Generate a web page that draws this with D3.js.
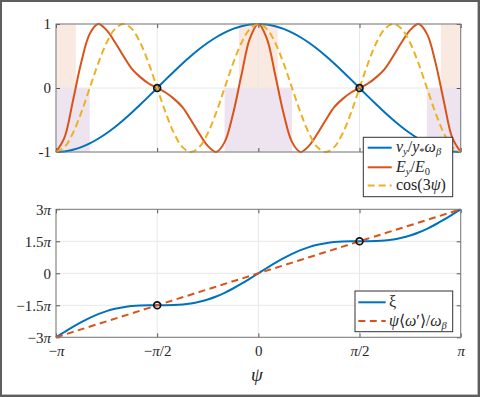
<!DOCTYPE html>
<html>
<head>
<meta charset="utf-8">
<script src="https://cdn.jsdelivr.net/npm/d3@7"></script>
<style>
body { margin: 0; background: #fff; }
svg { display: block; }
svg text { font-family: "Liberation Serif", "Times New Roman", serif; }
.axis path { display: none; }
.axis line { stroke: #555; }
.axis text { fill: #262626; font-size: 15px; }
</style>
</head>
<body>
<script>
// sample points of psi, in units of pi
const psi = [-1, -0.9583, -0.9167, -0.875, -0.8333, -0.7917, -0.75, -0.7083, -0.6667, -0.625, -0.5833, -0.5417,
	-0.5, -0.4583, -0.4167, -0.375, -0.3333, -0.2917, -0.25, -0.2083, -0.1667, -0.125, -0.0833, -0.0417,
	0, 0.0417, 0.0833, 0.125, 0.1667, 0.2083, 0.25, 0.2917, 0.3333, 0.375, 0.4167, 0.4583,
	0.5, 0.5417, 0.5833, 0.625, 0.6667, 0.7083, 0.75, 0.7917, 0.8333, 0.875, 0.9167, 0.9583, 1];

// top panel series
const vyNorm = [-1, -0.991, -0.966, -0.924, -0.866, -0.793, -0.707, -0.609, -0.5, -0.383, -0.259, -0.131,
	0, 0.131, 0.259, 0.383, 0.5, 0.609, 0.707, 0.793, 0.866, 0.924, 0.966, 0.991,
	1, 0.991, 0.966, 0.924, 0.866, 0.793, 0.707, 0.609, 0.5, 0.383, 0.259, 0.131,
	0, -0.131, -0.259, -0.383, -0.5, -0.609, -0.707, -0.793, -0.866, -0.924, -0.966, -0.991, -1];
const eyNorm = [-1, -0.777, -0.206, 0.403, 0.846, 0.999, 0.905, 0.715, 0.5, 0.3, 0.17, 0.07,
	0, -0.07, -0.17, -0.3, -0.5, -0.715, -0.905, -0.999, -0.846, -0.403, 0.206, 0.777,
	1, 0.777, 0.206, -0.403, -0.846, -0.999, -0.905, -0.715, -0.5, -0.3, -0.17, -0.07,
	0, 0.07, 0.17, 0.3, 0.5, 0.715, 0.905, 0.999, 0.846, 0.403, -0.206, -0.777, -1];
const cos3psi = [-1, -0.924, -0.707, -0.383, 0, 0.383, 0.707, 0.924, 1, 0.924, 0.707, 0.383,
	0, -0.383, -0.707, -0.924, -1, -0.924, -0.707, -0.383, 0, 0.383, 0.707, 0.924,
	1, 0.924, 0.707, 0.383, 0, -0.383, -0.707, -0.924, -1, -0.924, -0.707, -0.383,
	0, 0.383, 0.707, 0.924, 1, 0.924, 0.707, 0.383, 0, -0.383, -0.707, -0.924, -1];

// bottom panel series, in units of pi
const xiOverPi = [-3, -2.7514, -2.5113, -2.2874, -2.0865, -1.9138, -1.7725, -1.6638, -1.5865, -1.5374, -1.5113, -1.5014,
	-1.5, -1.4986, -1.4887, -1.4626, -1.4135, -1.3362, -1.2275, -1.0862, -0.9135, -0.7126, -0.4887, -0.2486,
	0, 0.2486, 0.4887, 0.7126, 0.9135, 1.0862, 1.2275, 1.3362, 1.4135, 1.4626, 1.4887, 1.4986,
	1.5, 1.5014, 1.5113, 1.5374, 1.5865, 1.6638, 1.7725, 1.9138, 2.0865, 2.2874, 2.5113, 2.7514, 3];
const meanPsi = [-1, -0.5, 0, 0.5, 1];
const meanPhase = [-3, -1.5, 0, 1.5, 3];

// circle markers
const markPsi = [-0.5, 0.5];
const markTop = [0, 0];
const markBottom = [-1.5, 1.5];

// shaded psi ranges (units of pi)
const peachSpans = [[-1, -0.902], [-0.096, 0.096], [0.902, 1]];
const purpleSpans = [[-1, -0.833], [-0.167, 0.167], [0.833, 1]];

const xTicks = [-1, -0.5, 0, 0.5, 1];
const xTickLabels = ["−π", "−π/2", "0", "π/2", "π"];
const topTicks = [-1, 0, 1];
const topTickLabels = ["-1", "0", "1"];
const bottomTicks = [-3, -1.5, 0, 1.5, 3];
const bottomTickLabels = ["−3π", "−1.5π", "0", "1.5π", "3π"];

const BLUE = "#0072BD", RED = "#D95319", YELLOW = "#EDB120";
const SERIF = "'Liberation Serif', 'Times New Roman', serif";

const W = 480, H = 397;
const svg = d3.select("body").append("svg").attr("width", W).attr("height", H);

// frame
svg.append("rect").attr("width", W).attr("height", H).attr("fill", "#5e5e5e");
svg.append("rect").attr("x", 2).attr("y", 2).attr("width", 475.6).attr("height", 392.6).attr("fill", "#fff");

const x = d3.scaleLinear().domain([-1, 1]).range([56, 460.7]);
const yTop = d3.scaleLinear().domain([-1, 1]).range([152, 24]);
const yBot = d3.scaleLinear().domain([-3, 3]).range([337.3, 209.3]);

function mathText(sel, str) {
	sel.text(null).attr("font-family", SERIF);
	for (const ch of str) {
		const t = sel.append("tspan").text(ch);
		if (ch === "π" || ch === "ψ" || ch === "ω") t.attr("font-style", "italic");
	}
}

function panel(y, ticks, labels, xLabels) {
	const g = svg.append("g");
	const [y0, y1] = y.range();
	// grid
	g.selectAll(".gx").data(xTicks).join("line")
		.attr("x1", d => x(d)).attr("x2", d => x(d))
		.attr("y1", y0).attr("y2", y1)
		.attr("stroke", "#e8e8e8").attr("stroke-width", 1);
	g.selectAll(".gy").data(ticks).join("line")
		.attr("x1", x(-1)).attr("x2", x(1))
		.attr("y1", d => y(d)).attr("y2", d => y(d))
		.attr("stroke", "#e8e8e8").attr("stroke-width", 1);

	const left = g.append("g").attr("class", "axis")
		.attr("transform", "translate(" + x(-1) + ",0)")
		.call(d3.axisLeft(y).tickValues(ticks).tickSizeInner(-4).tickSizeOuter(0).tickPadding(5)
			.tickFormat((d, i) => labels[i]));
	left.attr("font-family", SERIF);
	left.selectAll(".tick text").each(function (d, i) { mathText(d3.select(this), labels[i]); });
	g.append("g").attr("class", "axis")
		.attr("transform", "translate(" + x(1) + ",0)")
		.call(d3.axisRight(y).tickValues(ticks).tickSizeInner(-4).tickSizeOuter(0).tickFormat(""));
	g.append("g").attr("class", "axis")
		.attr("transform", "translate(0," + y1 + ")")
		.call(d3.axisTop(x).tickValues(xTicks).tickSizeInner(-4).tickSizeOuter(0).tickFormat(""));
	const bottom = g.append("g").attr("class", "axis")
		.attr("transform", "translate(0," + y0 + ")")
		.call(d3.axisBottom(x).tickValues(xTicks).tickSizeInner(-4).tickSizeOuter(0).tickPadding(8)
			.tickFormat((d, i) => xLabels ? xLabels[i] : ""));
	bottom.attr("font-family", SERIF);
	if (xLabels) bottom.selectAll(".tick text").each(function (d, i) { mathText(d3.select(this), xLabels[i]); });
	return g;
}

function curve(g, y, values, xs, color, dash) {
	const line = d3.line()
		.x((d, i) => x(xs[i]))
		.y(d => y(d))
		.curve(d3.curveCatmullRom.alpha(0.5));
	g.append("path").datum(values)
		.attr("d", line)
		.attr("fill", "none")
		.attr("stroke", color)
		.attr("stroke-width", 2)
		.attr("stroke-linejoin", "round")
		.attr("stroke-dasharray", dash || null);
}

function box(y) {
	const [y0, y1] = y.range();
	svg.append("rect")
		.attr("x", x(-1)).attr("y", y1)
		.attr("width", x(1) - x(-1)).attr("height", y0 - y1)
		.attr("fill", "none").attr("stroke", "#7a7a7a").attr("stroke-width", 1);
}

function markers(y, vals) {
	svg.append("g").selectAll("circle").data(vals).join("circle")
		.attr("cx", (d, i) => x(markPsi[i])).attr("cy", d => y(d))
		.attr("r", 3.4)
		.attr("fill", "none").attr("stroke", "#111").attr("stroke-width", 1.7);
}

function legend(x0, y0, w, h, sx0, sx1, tx, rows) {
	const g = svg.append("g");
	g.append("rect").attr("x", x0).attr("y", y0).attr("width", w).attr("height", h)
		.attr("fill", "#fff").attr("stroke", "#333").attr("stroke-width", 1);
	rows.forEach(r => {
		g.append("line").attr("x1", sx0).attr("x2", sx1).attr("y1", r.y).attr("y2", r.y)
			.attr("stroke", r.color).attr("stroke-width", 2)
			.attr("stroke-dasharray", r.dash || null);
		const t = g.append("text").attr("x", tx).attr("y", r.y + 4.5)
			.attr("font-family", SERIF)
			.attr("font-size", 16).attr("fill", "#262626");
		let shift = 0;
		r.parts.forEach(p => {
			const want = p[1] === "sub" ? 3 : 0;
			const ts = t.append("tspan").text(p[0]).attr("dy", want - shift);
			shift = want;
			if (p[1] === "sub") ts.attr("font-size", 10.5);
			if (p[1] === "i" || p[2] === "i") ts.attr("font-style", "italic");
		});
	});
}

// ---- top panel ----
const gShade = svg.append("g");
purpleSpans.forEach(s => {
	gShade.append("rect").attr("x", x(s[0])).attr("y", yTop(0))
		.attr("width", x(s[1]) - x(s[0])).attr("height", yTop(-1) - yTop(0))
		.attr("fill", "#7E2F8E").attr("fill-opacity", 0.13);
});
peachSpans.forEach(s => {
	gShade.append("rect").attr("x", x(s[0])).attr("y", yTop(1))
		.attr("width", x(s[1]) - x(s[0])).attr("height", yTop(0) - yTop(1))
		.attr("fill", RED).attr("fill-opacity", 0.13);
});
const gTop = panel(yTop, topTicks, topTickLabels, null);
curve(gTop, yTop, vyNorm, psi, BLUE);
curve(gTop, yTop, eyNorm, psi, RED);
curve(gTop, yTop, cos3psi, psi, YELLOW, "7,4");
box(yTop);
markers(yTop, markTop);

// ---- bottom panel ----
const gBot = panel(yBot, bottomTicks, bottomTickLabels, xTickLabels);
curve(gBot, yBot, xiOverPi, psi, BLUE);
curve(gBot, yBot, meanPhase, meanPsi, RED, "7,4.5");
box(yBot);
markers(yBot, markBottom);

svg.append("text").attr("x", 257).attr("y", 381).attr("text-anchor", "middle")
	.attr("font-family", SERIF)
	.attr("font-size", 19).attr("font-style", "italic").attr("fill", "#262626").text("ψ");

legend(363.3, 137.3, 89.4, 59.4, 367.7, 391.7, 396, [
	{ y: 147.7, color: BLUE, parts: [["v", "i"], ["y", "sub", "i"], ["/", ""], ["y", "i"], ["*", "sub"], ["ω", "i"], ["β", "sub", "i"]] },
	{ y: 167.3, color: RED, parts: [["E", "i"], ["y", "sub", "i"], ["/", ""], ["E", "i"], ["0", "sub"]] },
	{ y: 185.5, color: YELLOW, dash: "7,4", parts: [["cos(3", ""], ["ψ", "i"], [")", ""]] }
]);
legend(355, 291, 97.7, 40.7, 358.3, 385.7, 389, [
	{ y: 302.3, color: BLUE, parts: [["ξ", ""]] },
	{ y: 321, color: RED, dash: "7,4.5", parts: [["ψ", "i"], ["⟨", ""], ["ω", "i"], ["′", ""], ["⟩", ""], ["/", ""], ["ω", "i"], ["β", "sub", "i"]] }
]);
</script>
</body>
</html>
